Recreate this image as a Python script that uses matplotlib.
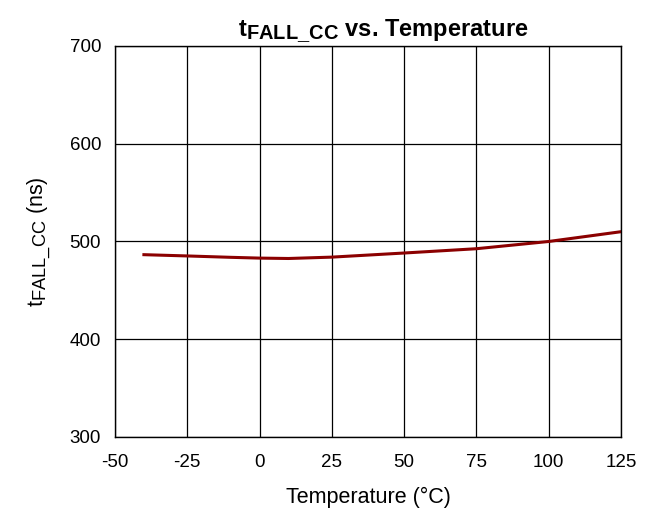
import matplotlib
matplotlib.use('Agg')
import matplotlib.pyplot as plt
import matplotlib._mathtext as mt

# Fall time vs. temperature
temps = [-40, -25, -10, 0, 10, 25, 50, 75, 100, 125]
t_fall = [486.5, 485.2, 483.8, 483.0, 482.6, 484.0, 488.2, 492.6, 500.0, 510.0]

x_ticks = [-50, -25, 0, 25, 50, 75, 100, 125]
y_ticks = [300, 400, 500, 600, 700]

plt.rcParams['font.family'] = ['Liberation Sans', 'DejaVu Sans']
plt.rcParams['axes.unicode_minus'] = False
plt.rcParams['mathtext.fontset'] = 'custom'
plt.rcParams['mathtext.rm'] = 'Liberation Sans'
plt.rcParams['mathtext.it'] = 'Liberation Sans'
plt.rcParams['mathtext.bf'] = 'Liberation Sans:bold'
# bigger subscripts, like the original
mt.SHRINK_FACTOR = 0.85

fig = plt.figure(figsize=(6.56, 5.15), dpi=100)
ax = fig.add_axes([0.1753, 0.1515, 0.7713, 0.7592])

ax.plot(temps, t_fall, color='#8B0000', linewidth=2.2)

ax.set_xlim(-50, 125)
ax.set_ylim(300, 700)
ax.set_xticks(x_ticks)
ax.set_yticks(y_ticks)
ax.tick_params(labelsize=13.5, length=0)
ax.tick_params(axis='x', pad=12)
ax.tick_params(axis='y', pad=10)
ax.grid(True, color='black', linewidth=0.9)
for s in ax.spines.values():
    s.set_linewidth(1.0)

ax.set_xlabel('Temperature (°C)', fontsize=15.5, labelpad=12)
ax.set_ylabel(r'$\mathrm{t_{FALL\_CC}}$ (ns)', fontsize=15.5, labelpad=12)
ax.set_title(r'$\mathbf{t_{FALL\_CC}}$ vs. Temperature', fontsize=17, fontweight='bold', pad=3, x=0.53)

fig.savefig('out.png', dpi=100)
